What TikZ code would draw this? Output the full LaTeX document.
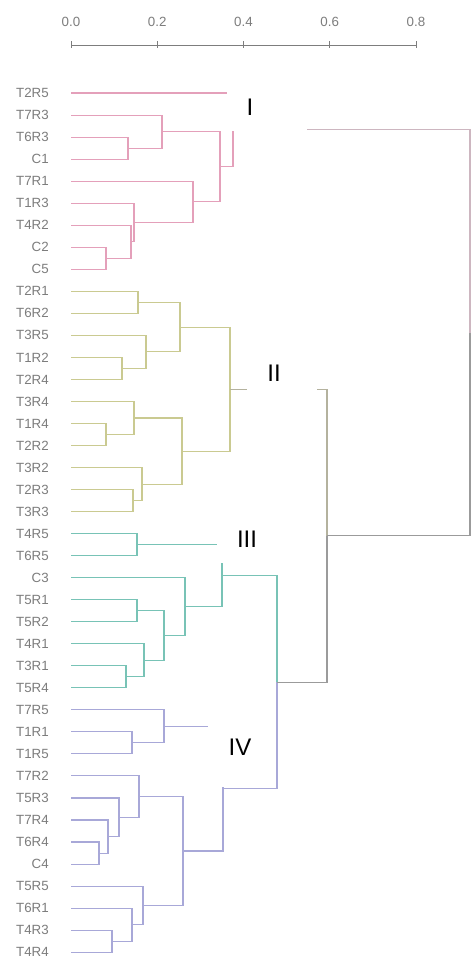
\documentclass[tikz,border=0pt]{standalone}
\usepackage{fontspec}
\setmainfont{Liberation Sans}
\definecolor{lbl}{RGB}{125,125,125}
\definecolor{cI}{RGB}{228,160,186}
\definecolor{cII}{RGB}{202,202,145}
\definecolor{cIII}{RGB}{120,195,182}
\definecolor{cIV}{RGB}{168,168,216}
\definecolor{cTop}{RGB}{155,155,155}
\definecolor{cIg}{RGB}{205,182,192}
\definecolor{cIIg}{RGB}{180,178,158}
\begin{document}
\begin{tikzpicture}[x=0.75pt,y=-0.75pt,
  leaf/.style={anchor=east,text=lbl,font=\fontsize{10}{12}\selectfont,inner sep=0pt},
  ticklbl/.style={text=lbl,font=\fontsize{10}{12}\selectfont,inner sep=0pt},
  grp/.style={font=\fontsize{18}{20}\selectfont,text=black,inner sep=0pt},
  blank/.style={fill=white,draw=none},
  br/.style={line width=0.8pt}]
\useasboundingbox (0,0) rectangle (472,961);
\fill[white] (0,0) rectangle (472,961);

% axis
\coordinate (ax0) at (71,45);
\coordinate (ax1) at (416,45);
\draw[lbl,line width=0.7pt] (ax0) -- (ax1);
\foreach \v [count=\k from 0] in {0.0,0.2,0.4,0.6,0.8}{
  \coordinate (tk\k) at (71+86.25*\k,45);
  \draw[lbl,line width=0.7pt] ([yshift=3pt]tk\k) -- ([yshift=-2.5pt]tk\k);
  \node[ticklbl] (tl\k) at (71+86.25*\k,22) {\v};
}

% leaves
\foreach \n [count=\i from 0] in {T2R5,T7R3,T6R3,C1,T7R1,T1R3,T4R2,C2,C5,
  T2R1,T6R2,T3R5,T1R2,T2R4,T3R4,T1R4,T2R2,T3R2,T2R3,T3R3,
  T4R5,T6R5,C3,T5R1,T5R2,T4R1,T3R1,T5R4,
  T7R5,T1R1,T1R5,T7R2,T5R3,T7R4,T6R4,C4,T5R5,T6R1,T4R3,T4R4}{
  \node[leaf] (L\i) at (49,93+22.03*\i) {\n};
  \coordinate (p\i) at (71,93+22.03*\i);
}

% internal nodes
\coordinate (a1) at (128,148.1);
\coordinate (a2) at (162,131.6);
\coordinate (a3) at (106,258.2);
\coordinate (a4) at (131,241.7);
\coordinate (a5) at (134,222.5);
\coordinate (a6) at (193,201.8);
\coordinate (a7) at (220,166.7);
\coordinate (nI) at (233,129.9);

\coordinate (b1) at (138,302.3);
\coordinate (b2) at (122,368.4);
\coordinate (b3) at (146,351.9);
\coordinate (b4) at (180,327.1);
\coordinate (b5) at (106,434.5);
\coordinate (b6) at (134,418.0);
\coordinate (b7) at (133,500.6);
\coordinate (b8) at (142,484.1);
\coordinate (b9) at (182,451.1);
\coordinate (nII) at (230,389.1);

\coordinate (c1) at (137,544.6);
\coordinate (c2) at (137,610.7);
\coordinate (c3) at (126,676.8);
\coordinate (c4) at (144,660.3);
\coordinate (c5) at (164,635.5);
\coordinate (c6) at (185,606.6);
\coordinate (nIII) at (222,575.6);

\coordinate (d1) at (132,742.9);
\coordinate (d2) at (164,726.4);
\coordinate (d3) at (99,853.1);
\coordinate (d4) at (108,836.6);
\coordinate (d5) at (119,817.3);
\coordinate (d6) at (139,796.6);
\coordinate (d7) at (112,941.2);
\coordinate (d8) at (132,924.7);
\coordinate (d9) at (143,905.4);
\coordinate (d10) at (183,851.0);
\coordinate (nIV) at (223,788.7);

\coordinate (e1) at (277,682.2);
\coordinate (e2) at (327,535.7);
\coordinate (root) at (470,332.8);

% cluster I
\foreach \c/\p in {p2/a1,p3/a1,p1/a2,a1/a2,p7/a3,p8/a3,p6/a4,a3/a4,p5/a5,a4/a5,
  p4/a6,a5/a6,a2/a7,a6/a7,p0/nI,a7/nI}
  \draw[br,cI] (\c) -| (\p);
% cluster II
\foreach \c/\p in {p9/b1,p10/b1,p12/b2,p13/b2,p11/b3,b2/b3,b1/b4,b3/b4,
  p15/b5,p16/b5,p14/b6,b5/b6,p18/b7,p19/b7,p17/b8,b7/b8,b6/b9,b8/b9,b4/nII,b9/nII}
  \draw[br,cII] (\c) -| (\p);
% cluster III
\foreach \c/\p in {p20/c1,p21/c1,p23/c2,p24/c2,p26/c3,p27/c3,p25/c4,c3/c4,
  c2/c5,c4/c5,p22/c6,c5/c6,c1/nIII,c6/nIII,nIII/e1}
  \draw[br,cIII] (\c) -| (\p);
% cluster IV
\foreach \c/\p in {p29/d1,p30/d1,p28/d2,d1/d2,p34/d3,p35/d3,p33/d4,d3/d4,
  p32/d5,d4/d5,p31/d6,d5/d6,p38/d7,p39/d7,p37/d8,d7/d8,p36/d9,d8/d9,
  d6/d10,d9/d10,d2/nIV,d10/nIV,nIV/e1}
  \draw[br,cIV] (\c) -| (\p);
% upper links
\draw[br,cTop] (e1) -| (e2);
\draw[br,cIIg] (nII) -| (e2);
\draw[br,cIg] (nI) -| (root);
\draw[br,cTop] (e2) -| (root);

% group labels on white boxes
\fill[blank] (227,82) rectangle (307,131);
\node[grp] (gI) at (250,107) {I};
\fill[blank] (247,352) rectangle (317,398);
\node[grp] (gII) at (274,373) {II};
\fill[blank] (217,518) rectangle (272,563);
\node[grp] (gIII) at (247,539) {III};
\fill[blank] (208,712) rectangle (270,787);
\node[grp] (gIV) at (240,747) {IV};
\end{tikzpicture}
\end{document}
